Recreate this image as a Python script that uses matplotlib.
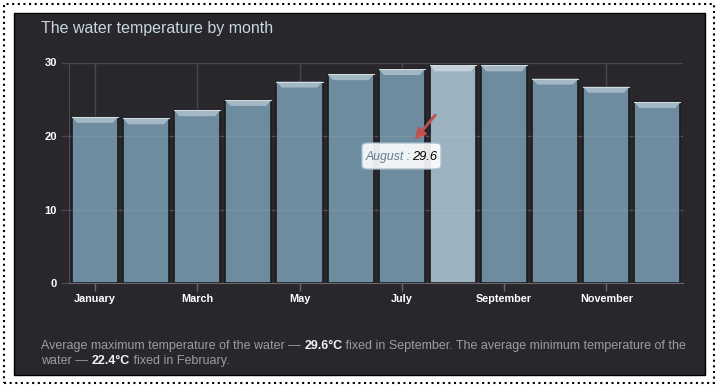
import matplotlib.pyplot as plt
from matplotlib.patches import Rectangle, Polygon, FancyBboxPatch

# data
months = ['January', 'February', 'March', 'April', 'May', 'June',
          'July', 'August', 'September', 'October', 'November', 'December']
water_temp = [22.6, 22.4, 23.5, 24.9, 27.4, 28.4, 29.1, 29.6, 29.6, 27.8, 26.7, 24.6]
tick_months = months[::2]
yticks = [0, 10, 20, 30]
highlight = 'August'
title = 'The water temperature by month'
note_line1 = [('Average maximum temperature of the water \u2014 ', False),
              ('29.6\u00b0C', True),
              (' fixed in September. The average minimum temperature of the', False)]
note_line2 = [('water \u2014 ', False), ('22.4\u00b0C', True), (' fixed in February.', False)]

W, H = 720, 390
PANEL = '#29272c'
BAR = '#6d8c9f'
BAR_HI = '#9db2bf'
BEVEL = '#a3b7c4'
BEVEL_HI = '#c3d1da'
GRID = '#4a484e'
SANS = ['Liberation Sans', 'DejaVu Sans']
NARROW = ['Liberation Sans Narrow', 'Liberation Sans', 'DejaVu Sans']


def fx(px):
    return px / W


def fy(py):
    return 1 - py / H


fig = plt.figure(figsize=(W / 100, H / 100), dpi=100, facecolor='white')

# dotted outer frame and dark panel
fig.add_artist(Rectangle((fx(4), fy(383)), fx(710), (379) / H, transform=fig.transFigure,
                         fill=False, ec='black', lw=1.5, ls=(0, (1, 1.7)), zorder=-20))
fig.add_artist(Rectangle((fx(14), fy(375)), fx(691), (362) / H, transform=fig.transFigure,
                         fc=PANEL, ec='black', lw=1, zorder=-10))

ax = fig.add_axes([fx(69.4), fy(283.3), fx(613.6), 220.8 / H])
ax.set_facecolor('none')
x = list(range(len(months)))
colors = [BAR_HI if m == highlight else BAR for m in months]
bars = ax.bar(x, water_temp, width=0.9, color=colors, edgecolor='#1c1b1e', linewidth=1.2, zorder=2)

# bevelled top of each bar
for b, m in zip(bars, months):
    x0, w, h = b.get_x(), b.get_width(), b.get_height()
    inset, depth = 0.1, 0.8
    ax.add_patch(Polygon([(x0, h), (x0 + w, h), (x0 + w - inset, h - depth), (x0 + inset, h - depth)],
                         closed=True, fc=BEVEL_HI if m == highlight else BEVEL, ec='none', zorder=3))
    ax.plot([x0, x0 + w], [h, h], color='#d0dce4', lw=0.8, zorder=3)

for yv in yticks[1:-1]:
    ax.axhline(yv, color='white', alpha=0.07, lw=1, zorder=4)

ax.set_xlim(-0.5, len(months) - 0.5)
ax.set_ylim(0, 30)
ax.set_xticks(x[::2])
ax.set_xticklabels(tick_months, family=NARROW, fontweight='bold', fontsize=7.8, color='white')
ax.set_yticks(yticks)
ax.set_yticklabels([str(v) for v in yticks], family=SANS, fontweight='bold', fontsize=8, color='white')
ax.tick_params(axis='x', length=6, width=1, color='#6a686e', pad=1.5)
ax.tick_params(axis='y', length=6, width=1, color=GRID, pad=3)
ax.grid(True, color=GRID, lw=1, zorder=0)
ax.set_axisbelow(True)
for s in ['top', 'right']:
    ax.spines[s].set_visible(False)
ax.spines['left'].set_color(GRID)
ax.spines['bottom'].set_color('#6a686e')

fig.text(fx(41), fy(28), title, color='#c6d6e3', fontsize=11.5, family=SANS, va='center')


def write_line(pieces, px, py):
    prev = None
    for s, bold in pieces:
        kw = dict(color='#f2f2f2' if bold else '#9c9ca4', fontweight='bold' if bold else 'normal',
                  fontsize=9, family=SANS)
        if prev is None:
            prev = fig.text(fx(px), fy(py), s, va='center', ha='left', **kw)
        else:
            prev = ax.annotate(s, xy=(1, 0), xycoords=prev, va='bottom', ha='left',
                               annotation_clip=False, **kw)


write_line(note_line1, 41, 346)
write_line(note_line2, 41, 361)

# tooltip and red arrow
fig.add_artist(FancyBboxPatch((fx(362), fy(169)), fx(79), 26 / H, transform=fig.transFigure,
                              boxstyle='round,pad=0,rounding_size=0.008', fc='white', alpha=0.9,
                              ec='#a7bccb', lw=1, zorder=5))
hi = months.index(highlight)
fig.text(fx(366), fy(157), highlight + ' :', color='#607d90', style='italic', fontsize=8.8,
         family=SANS, va='center', zorder=6)
fig.text(fx(437), fy(157), f'{water_temp[hi]:.1f}', color='black', style='italic', fontsize=9.3,
         family=SANS, va='center', ha='right', zorder=6)
ax.annotate('', xy=(413, H - 142), xycoords='figure pixels', xytext=(437, H - 113),
            textcoords='figure pixels', annotation_clip=False,
            arrowprops=dict(arrowstyle='-|>,head_length=0.6,head_width=0.3', color='#c0504d', lw=2))

fig.savefig('out.png', dpi=100, facecolor='white')
